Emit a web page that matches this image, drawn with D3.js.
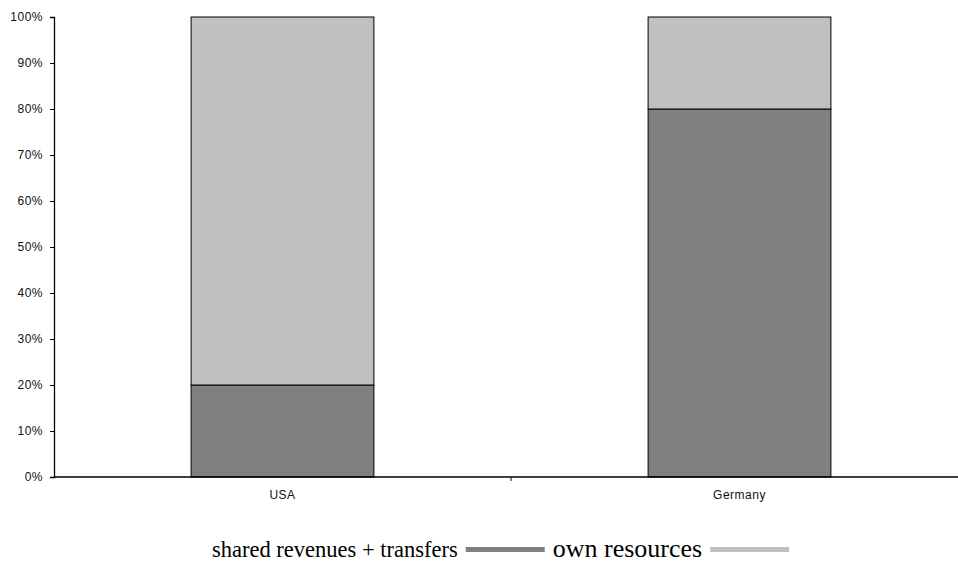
<!DOCTYPE html>
<html>
<head>
<meta charset="utf-8">
<script src="https://cdn.jsdelivr.net/npm/d3@7"></script>
<style>
    html, body { margin: 0; padding: 0; background: #fff; }
    svg { display: block; }
</style>
</head>
<body>
<div id="grafico"></div>
<script>
const countries = ["USA", "Germany"];
const sharedTransfers = [20, 80];
const ownResources = [80, 20];
const yTicks = [0, 10, 20, 30, 40, 50, 60, 70, 80, 90, 100];
const seriesNames = ["shared revenues + transfers", "own resources"];
const seriesColors = ["#808080", "#c0c0c0"];

const width = 958;
const height = 563;
const plotLeft = 54;
const plotTop = 17;
const plotBottom = 477;

const data = countries.map((c, i) => ({ country: c, shared: sharedTransfers[i], own: ownResources[i] }));
const stack = d3.stack().keys(["shared", "own"])(data);

const svg = d3.select('#grafico')
    .append('svg')
    .attr('width', width)
    .attr('height', height);

// categories span to the right beyond the window, like the original
const xScale = d3.scaleBand()
    .domain(countries)
    .range([plotLeft, 968])
    .padding(0);

const yScale = d3.scaleLinear()
    .domain([0, 100])
    .range([plotBottom, plotTop]);

const barW = xScale.bandwidth() * 0.4;

svg.selectAll('g.layer')
    .data(stack)
    .enter()
    .append('g')
    .attr('class', 'layer')
    .attr('fill', (d, i) => seriesColors[i])
    .selectAll('rect')
    .data(d => d)
    .enter()
    .append('rect')
    .attr('x', d => xScale(d.data.country) + xScale.bandwidth() / 2 - barW / 2)
    .attr('y', d => yScale(d[1]))
    .attr('width', barW)
    .attr('height', d => yScale(d[0]) - yScale(d[1]))
    .attr('stroke', '#000')
    .attr('stroke-width', 1);

// y axis
const yAxis = d3.axisLeft(yScale)
    .tickValues(yTicks)
    .tickFormat(d => d + '%')
    .tickSize(4)
    .tickPadding(7);

const gy = svg.append('g')
    .attr('transform', `translate(${plotLeft}, 0)`)
    .call(yAxis);
gy.select('.domain').attr('stroke', '#000').attr('stroke-width', 1.3);
gy.selectAll('.tick line').attr('stroke', '#000');
gy.selectAll('.tick text')
    .attr('font-family', 'Liberation Sans, Arial, sans-serif')
    .attr('font-size', 12)
    .attr('letter-spacing', 0.5)
    .attr('fill', '#111');

// x axis: ticks between categories
const gx = svg.append('g')
    .attr('transform', `translate(0, ${plotBottom})`);
gx.append('line')
    .attr('x1', plotLeft).attr('x2', 968)
    .attr('stroke', '#000').attr('stroke-width', 1.3);
gx.selectAll('line.sep')
    .data(countries.slice(1))
    .enter()
    .append('line')
    .attr('class', 'sep')
    .attr('x1', d => xScale(d)).attr('x2', d => xScale(d))
    .attr('y1', 0).attr('y2', 4)
    .attr('stroke', '#000');
gx.selectAll('text')
    .data(countries)
    .enter()
    .append('text')
    .attr('x', d => xScale(d) + xScale.bandwidth() / 2)
    .attr('y', 22)
    .attr('text-anchor', 'middle')
    .attr('font-family', 'Liberation Sans, Arial, sans-serif')
    .attr('font-size', 12)
    .attr('letter-spacing', 0.5)
    .attr('fill', '#111')
    .text(d => d);

// legend (second label is set a bit larger, as in the original)
const labelSizes = [22.5, 26];
const legend = svg.append('g')
    .attr('transform', 'translate(212, 557)')
    .attr('font-family', 'Liberation Serif, Times New Roman, serif')
    .attr('fill', '#000');

let lx = 0;
seriesNames.forEach((name, i) => {
    const t = legend.append('text')
        .attr('x', lx)
        .attr('y', 0)
        .attr('font-size', labelSizes[i])
        .text(name);
    lx += t.node().getComputedTextLength() + 8;
    legend.append('rect')
        .attr('x', lx)
        .attr('y', -10)
        .attr('width', 79)
        .attr('height', 5)
        .attr('fill', seriesColors[i]);
    lx += 79 + 8;
});
</script>
</body>
</html>
